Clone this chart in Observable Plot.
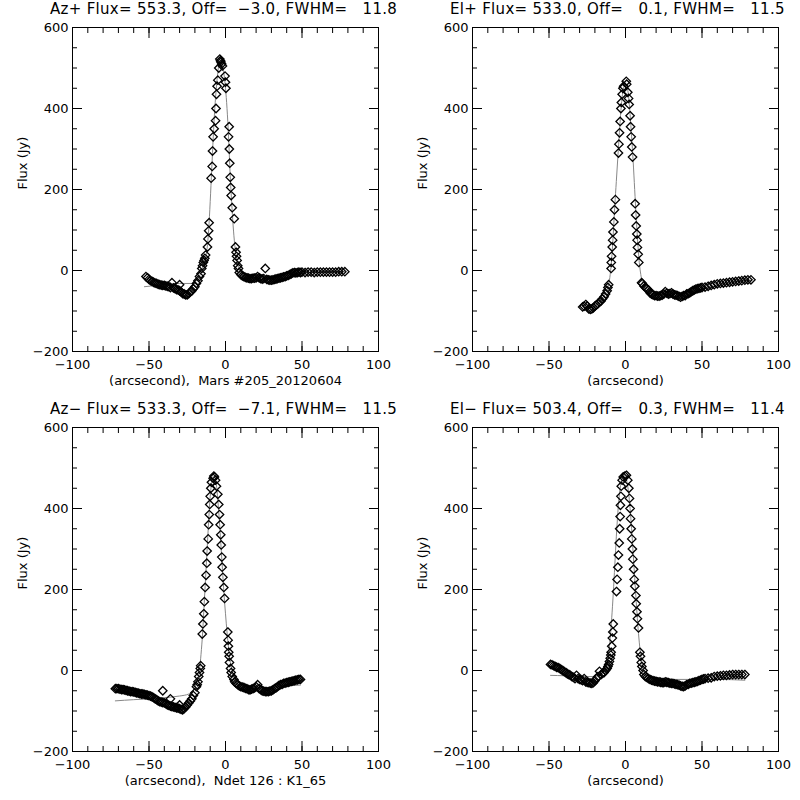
<!DOCTYPE html>
<html><head><meta charset="utf-8">
<script src="https://cdn.jsdelivr.net/npm/d3@7"></script>
<script src="https://cdn.jsdelivr.net/npm/@observablehq/plot@0.6"></script>
<style>
body{margin:0;background:#fff;}
#wrap{position:relative;width:800px;height:800px;}
.panel{position:absolute;width:400px;height:400px;}
.ttl{position:absolute;top:0px;left:50px;white-space:pre;font:15px "DejaVu Sans",sans-serif;letter-spacing:0.3px;z-index:5;}
</style></head><body><div id="wrap"></div>
<script>
const titles = [
  "Az+ Flux= 553.3, Off=  \u22123.0, FWHM=   11.8",
  "El+ Flux= 533.0, Off=   0.1, FWHM=   11.5",
  "Az\u2212 Flux= 533.3, Off=  \u22127.1, FWHM=   11.5",
  "El\u2212 Flux= 503.4, Off=   0.3, FWHM=   11.4"
];
const xLabels = [
  "(arcsecond),  Mars #205_20120604",
  "(arcsecond)",
  "(arcsecond),  Ndet 126 : K1_65",
  "(arcsecond)"
];
const yLabel = "Flux (Jy)";
const xTicks = [-100,-50,0,50,100];
const yTicks = [-200,0,200,400,600];

const azPlusPts = [[-52,-15],[-51,-18],[-50,-22],[-49,-25],[-48,-27],[-47,-29],[-46,-31],[-45,-32],[-44,-34],[-43,-35],[-42,-36],[-41,-37],[-40,-37],[-39,-38],[-38,-39],[-37,-40],[-36,-42],[-35,-30],[-34,-43],[-33,-45],[-32,-47],[-31,-48],[-30,-35],[-30,-50],[-29,-53],[-28,-57],[-27,-58],[-26,-60],[-25,-60],[-24,-57],[-23,-53],[-22,-50],[-21,-45],[-20,-40],[-19,-32],[-18,-25],[-17,-15],[-16,-8],[-15.5,5],[-15,12],[-14.5,20],[-14,25],[-13.5,30],[-13,38],[-11.8,58],[-11.5,78],[-11,98],[-10.7,118],[-9.4,228],[-8.7,257],[-8.5,295],[-8.1,330],[-7.4,350],[-6.5,370],[-6.2,400],[-5.9,435],[-5.5,455],[-5,470],[-4.4,500],[-3.7,522],[-3.3,518],[-3,515],[-2.5,510],[-2,505],[-0.3,480],[0,465],[0.3,450],[2.4,355],[2,330],[2.5,300],[2.8,265],[3.1,230],[3.4,205],[3.7,185],[4.4,155],[5.7,128],[6.5,58],[6.9,45],[7.2,35],[7.6,25],[8,12],[8.5,5],[9,-5],[10,-10],[11,-13],[12,-15],[13,-17],[14,-18],[15,-19],[16,-20],[17,-20],[18,-19],[19,-19],[20,-18],[21,-15],[22,-18],[23,-20],[24,-21],[25,-20],[26,5],[27,-22],[28,-23],[29,-24],[30,-24],[31,-23],[32,-22],[33,-21],[34,-20],[35,-19],[36,-18],[37,-17],[38,-16],[39,-15],[40,-13],[41,-12],[42,-10],[43,-8],[44,-6],[45,-5],[46,-6],[47,-5],[48,-4],[49,-5],[50,-4],[52,-5],[54,-4],[56,-4],[58,-5],[60,-4],[62,-4],[64,-4],[66,-4],[68,-4],[70,-4],[72,-4],[74,-3],[76,-3],[78,-3]];
const azPlusFit = [[-53,-40],[-45,-37],[-40,-35],[-30,-32],[-22,-32],[-19,-25],[-16,-5],[-14,20],[-12,55],[-11,100],[-10,170],[-9,250],[-8,330],[-7,400],[-6,450],[-5,490],[-4,515],[-3.3,525],[-2,505],[-1,485],[0,450],[1,400],[2,330],[3,240],[4,170],[5,110],[6,65],[7,35],[8,15],[10,-5],[12,-15],[15,-20],[20,-20],[30,-17],[40,-12],[50,-7],[60,-5],[70,-4],[78,-3]];

const elPlusPts = [[-28,-90],[-27,-88],[-26,-84],[-25,-88],[-24,-95],[-23,-96],[-22,-95],[-21,-92],[-20,-88],[-19,-85],[-18,-82],[-17,-78],[-16,-75],[-15,-70],[-14,-65],[-13,-58],[-12,-50],[-11.5,-42],[-11,-35],[-9.4,5],[-9.3,20],[-9.1,35],[-8.7,58],[-8.4,75],[-8.2,95],[-7.6,120],[-7.2,150],[-6.6,175],[-4.6,290],[-4.3,312],[-3.9,340],[-3.5,368],[-3,400],[-2.7,415],[-2.2,435],[-1.7,450],[-1.2,455],[0.5,467],[0.8,460],[1.5,440],[2,425],[2.4,410],[3,382],[3.3,355],[3.7,330],[4.1,305],[4.6,280],[6.3,165],[6.6,137],[7,110],[7.4,90],[7.6,75],[7.8,57],[8.3,40],[8.7,20],[10.5,-30],[11,-32],[12,-38],[13,-42],[14,-45],[15,-48],[16,-55],[17,-58],[18,-60],[19,-62],[20,-62],[21,-63],[22,-63],[23,-62],[24,-61],[25,-58],[26,-52],[27,-56],[28,-58],[29,-57],[30,-55],[31,-58],[32,-60],[33,-61],[34,-62],[35,-64],[36,-66],[37,-64],[38,-62],[39,-62],[40,-58],[41,-57],[42,-55],[43,-52],[44,-50],[45,-48],[46,-46],[47,-45],[48,-44],[49,-43],[50,-42],[52,-41],[54,-39],[56,-37],[58,-35],[60,-33],[62,-32],[64,-31],[66,-30],[68,-29],[70,-28],[72,-27],[74,-26],[76,-25],[78,-24],[80,-23],[82,-23]];
const elPlusFit = [[-28,-88],[-24,-92],[-20,-88],[-16,-72],[-13,-55],[-11,-35],[-10,-10],[-9,30],[-8,90],[-7,160],[-6,220],[-5,280],[-4,340],[-3,395],[-2,435],[-1,455],[0,462],[1,455],[2,430],[3,385],[4,330],[5,270],[6,200],[7,130],[8,70],[9,20],[10,-10],[12,-40],[15,-55],[20,-60],[30,-58],[40,-55],[50,-45],[60,-37],[70,-30],[82,-24]];

const azMinusPts = [[-72,-45],[-71,-45],[-70,-45],[-69,-46],[-68,-47],[-67,-47],[-66,-48],[-65,-49],[-64,-50],[-63,-51],[-62,-52],[-61,-52],[-60,-53],[-59,-54],[-58,-55],[-57,-56],[-56,-57],[-55,-58],[-54,-58],[-53,-59],[-52,-60],[-51,-61],[-50,-62],[-49,-63],[-48,-65],[-47,-67],[-46,-70],[-45,-72],[-44,-75],[-43,-77],[-42,-78],[-41,-50],[-41,-79],[-40,-80],[-39,-82],[-38,-85],[-37,-86],[-36,-70],[-36,-88],[-35,-89],[-34,-90],[-33,-91],[-32,-92],[-31,-93],[-30,-85],[-30,-94],[-29,-96],[-28,-97],[-27,-94],[-26,-90],[-25,-85],[-24,-80],[-23,-75],[-22,-70],[-21,-62],[-20,-55],[-19,-40],[-18.5,-35],[-18,-28],[-17.5,-15],[-17,-5],[-16.5,5],[-16.2,12],[-15.2,90],[-14.8,115],[-14.2,140],[-13.8,170],[-13.3,205],[-12.7,235],[-12.2,265],[-12,295],[-11.3,325],[-11,360],[-10.6,385],[-10.3,410],[-10,430],[-9.6,450],[-9.2,465],[-8.1,475],[-7.6,480],[-7.2,478],[-6.5,470],[-5.9,455],[-5,435],[-4.4,410],[-3.9,385],[-3.5,360],[-3.1,335],[-2.8,310],[-2.4,280],[-2.2,255],[-1.7,230],[-1.1,205],[-0.6,178],[1.5,95],[1.7,75],[1.9,60],[2.1,45],[2.4,35],[2.6,20],[3.3,5],[3.7,-5],[4.4,-15],[5.5,-22],[6,-28],[7,-32],[8,-35],[9,-38],[10,-40],[11,-41],[12,-42],[13,-44],[14,-45],[15,-47],[16,-48],[17,-46],[18,-45],[19,-43],[20,-40],[21,-35],[22,-45],[23,-47],[24,-50],[25,-51],[26,-52],[27,-52],[28,-52],[29,-51],[30,-50],[31,-48],[32,-45],[33,-43],[34,-40],[35,-37],[36,-35],[37,-34],[38,-32],[39,-31],[40,-30],[41,-29],[42,-28],[43,-27],[44,-26],[45,-25],[46,-24],[47,-23],[48,-22],[49,-22]];
const azMinusFit = [[-72,-75],[-60,-72],[-50,-70],[-40,-67],[-30,-63],[-24,-58],[-21,-50],[-19,-30],[-17,0],[-16,40],[-15,90],[-14,160],[-13,230],[-12,300],[-11,370],[-10,430],[-9,465],[-8,480],[-7,478],[-6,460],[-5,420],[-4,370],[-3,310],[-2,250],[-1,190],[0,140],[1,95],[2,55],[3,25],[4,5],[5,-12],[6,-22],[8,-35],[10,-40],[14,-43],[20,-44],[30,-42],[40,-38],[49,-36]];

const elMinusPts = [[-49,15],[-48,14],[-47,12],[-46,10],[-45,8],[-44,7],[-43,5],[-42,2],[-41,0],[-40,-3],[-39,-5],[-38,-8],[-37,-10],[-36,-12],[-35,-15],[-34,-17],[-33,-20],[-32,-12],[-31,-20],[-30,-22],[-29,-23],[-28,-25],[-27,-20],[-26,-28],[-25,-29],[-24,-30],[-23,-31],[-22,-32],[-21,-30],[-20,-25],[-19,-20],[-18,-15],[-17,-2],[-16,-10],[-15,-7],[-14,-5],[-13,0],[-12,5],[-11.5,10],[-11,15],[-10.5,22],[-10,30],[-9.6,38],[-9.4,45],[-9,60],[-8.6,80],[-8.3,95],[-8,115],[-5.9,195],[-5.5,225],[-5,255],[-4.6,285],[-4.1,315],[-3.8,350],[-3.5,380],[-3.3,408],[-3,430],[-2.8,455],[-2.2,470],[-1.5,478],[-0.4,480],[0.6,482],[1.5,470],[2.2,450],[2.6,425],[3,400],[3.3,375],[3.7,350],[4.1,325],[4.5,300],[4.8,275],[5.3,250],[5.7,225],[6.1,208],[6.8,185],[7,165],[7.5,145],[7.8,128],[8.5,105],[9.4,45],[9.8,35],[10.3,20],[10.7,10],[11.5,0],[12,-10],[13,-15],[14,-17],[15,-20],[16,-22],[17,-24],[18,-25],[19,-26],[20,-27],[21,-28],[22,-28],[23,-29],[24,-30],[25,-30],[26,-28],[27,-29],[28,-30],[29,-31],[30,-32],[31,-32],[32,-33],[33,-34],[34,-35],[35,-36],[36,-38],[37,-39],[38,-40],[39,-38],[40,-35],[41,-34],[42,-32],[43,-31],[44,-30],[45,-29],[46,-28],[47,-27],[48,-25],[49,-24],[50,-22],[51,-21],[52,-20],[54,-19],[56,-18],[58,-15],[60,-14],[62,-13],[64,-12],[66,-12],[68,-11],[70,-10],[72,-10],[74,-10],[76,-10],[78,-10]];
const elMinusFit = [[-49,-12],[-40,-13],[-30,-15],[-20,-15],[-16,-5],[-13,15],[-11,45],[-10,80],[-9,130],[-8,190],[-7,260],[-6,330],[-5,390],[-4,435],[-3,462],[-2,478],[-1,482],[0,478],[1,465],[2,440],[3,400],[4,350],[5,290],[6,230],[7,170],[8,115],[9,70],[10,35],[11,10],[12,-5],[14,-15],[17,-20],[20,-22],[40,-22],[60,-22],[78,-24]];

const panels = [
  {pts: azPlusPts, fit: azPlusFit},
  {pts: elPlusPts, fit: elPlusFit},
  {pts: azMinusPts, fit: azMinusFit},
  {pts: elMinusPts, fit: elMinusFit}
];
const xMinor = d3.range(-100, 101, 10);
const yMinor = d3.range(-200, 601, 50);
const font = '"DejaVu Sans", sans-serif';
const wrap = document.getElementById("wrap");
const fmt = d => d < 0 ? "\u2212" + (-d) : d;

panels.forEach((p, i) => {
  const div = document.createElement("div");
  div.className = "panel";
  div.style.left = (i % 2) * 400 + "px";
  div.style.top = Math.floor(i / 2) * 400 + "px";
  const tick = (anchor, axis, ticks, size) => (axis === "x" ? Plot.axisX : Plot.axisY)({anchor, ticks, tickSize: -size, text: null, stroke: "#000"});
  const chart = Plot.plot({
    width: 400, height: 400,
    marginLeft: 72, marginRight: 22, marginTop: 27, marginBottom: 49,
    style: {fontFamily: font, fontSize: "13px", background: "transparent", color: "#000"},
    x: {domain: [-100, 100]},
    y: {domain: [-200, 600]},
    marks: [
      Plot.frame({stroke: "#000"}),
      tick("bottom","x",xTicks,10), tick("top","x",xTicks,10),
      tick("bottom","x",xMinor,5), tick("top","x",xMinor,5),
      tick("left","y",yTicks,10), tick("right","y",yTicks,10),
      tick("left","y",yMinor,5), tick("right","y",yMinor,5),
      Plot.axisX({anchor: "bottom", ticks: xTicks, tickSize: 0, tickPadding: 8, tickFormat: fmt, label: null}),
      Plot.axisY({anchor: "left", ticks: yTicks, tickSize: 0, tickPadding: 4, tickFormat: fmt, label: null}),
      Plot.line(p.fit, {x: d => d[0], y: d => d[1], stroke: "#888", strokeWidth: 1, curve: "monotone-x"}),
      Plot.dot(p.pts, {x: d => d[0], y: d => d[1], symbol: "diamond2", r: 3.8, stroke: "#000", strokeWidth: 1.3, fill: "none"}),
      Plot.text([xLabels[i]], {frameAnchor: "bottom", dy: 33, text: d => d, fontSize: 13}),
      Plot.text([yLabel], {frameAnchor: "left", dx: -50, rotate: -90, text: d => d, fontSize: 13})
    ]
  });
  div.appendChild(chart);
  const t = document.createElement("div");
  t.className = "ttl";
  t.textContent = titles[i];
  div.appendChild(t);
  wrap.appendChild(div);
});
</script></body></html>
